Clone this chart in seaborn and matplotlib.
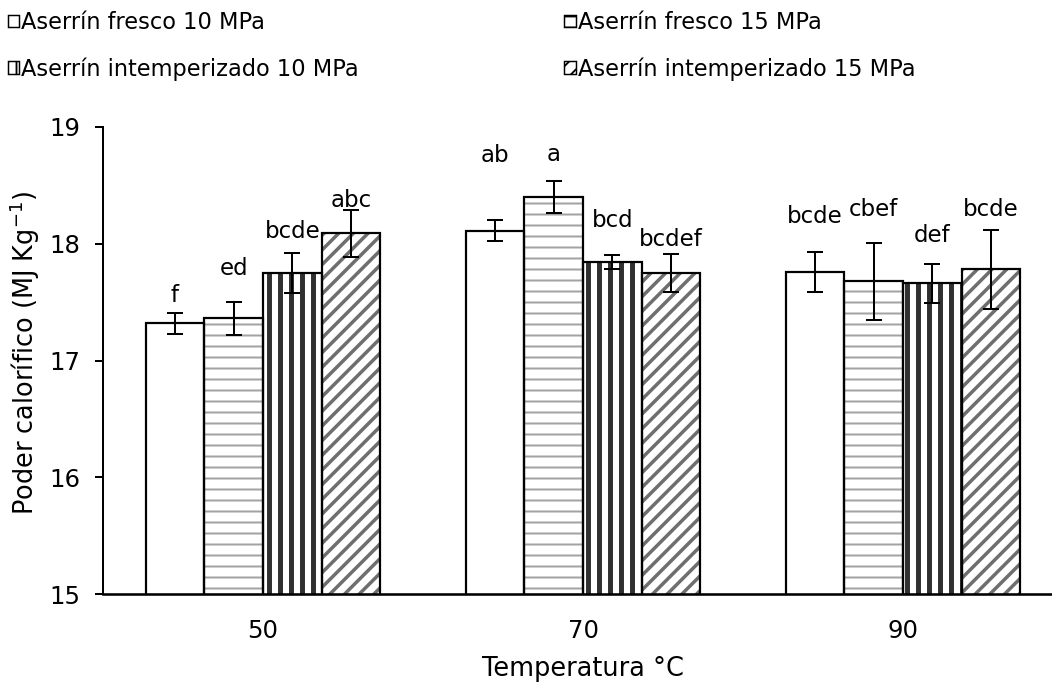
import pandas as pd
import seaborn as sns
import matplotlib.pyplot as plt
from matplotlib.patches import Patch

# ----- DATOS -----
temperaturas = ["50", "70", "90"]
tratamientos = ["Aserrín fresco 10 MPa", "Aserrín fresco 15 MPa",
                "Aserrín intemperizado 10 MPa", "Aserrín intemperizado 15 MPa"]

# poder calorífico medio por tratamiento (50, 70, 90 °C)
fresco_10 = [17.32, 18.11, 17.76]
fresco_15 = [17.36, 18.40, 17.68]
intemp_10 = [17.75, 17.84, 17.66]
intemp_15 = [18.09, 17.75, 17.78]

# desviaciones (barras de error)
err_fresco_10 = [0.09, 0.09, 0.17]
err_fresco_15 = [0.145, 0.14, 0.33]
err_intemp_10 = [0.175, 0.06, 0.17]
err_intemp_15 = [0.20, 0.16, 0.34]

# letras de Tukey
letras_fresco_10 = ["f", "ab", "bcde"]
letras_fresco_15 = ["ed", "a", "cbef"]
letras_intemp_10 = ["bcde", "bcd", "def"]
letras_intemp_15 = ["abc", "bcdef", "bcde"]


def main():
    medias = [fresco_10, fresco_15, intemp_10, intemp_15]
    errores = [err_fresco_10, err_fresco_15, err_intemp_10, err_intemp_15]
    letras = [letras_fresco_10, letras_fresco_15, letras_intemp_10, letras_intemp_15]

    filas = []
    for trat, vals in zip(tratamientos, medias):
        for temp, v in zip(temperaturas, vals):
            filas.append({"temp": temp, "valor": v, "trat": trat})
    df = pd.DataFrame(filas)

    sns.set_style("ticks")
    plt.rcParams["font.family"] = ["DejaVu Sans"]
    plt.rcParams["mathtext.default"] = "regular"
    for clave in ["text.color", "axes.labelcolor", "xtick.color", "ytick.color",
                  "axes.edgecolor"]:
        plt.rcParams[clave] = "black"

    # dpi 132 para que la densidad de los tramados se parezca a la original
    DPI = 132
    fig = plt.figure(figsize=(1052 / DPI, 684 / DPI), dpi=DPI)
    ax = fig.add_axes([103 / 1052, 90 / 684, 960 / 1052, 467 / 684])

    # relleno con tramado
    sns.barplot(data=df, x="temp", y="valor", hue="trat",
                order=temperaturas, hue_order=tratamientos,
                palette={t: "white" for t in tratamientos},
                width=0.734, linewidth=0, errorbar=None, legend=False, ax=ax)

    tramas = [None, "--", "||", "///"]
    color_trama = ["black", "#a3a3a3", "#303030", "#6e6e6e"]
    grosor_trama = [1.0, 1.1, 2.7, 1.9]
    for i, cont in enumerate(ax.containers):
        for barra in cont:
            if tramas[i]:
                barra.set_hatch(tramas[i])
                barra.set_edgecolor(color_trama[i])
                if hasattr(barra, "set_hatch_linewidth"):
                    barra.set_hatch_linewidth(grosor_trama[i])

    # contorno negro encima
    sns.barplot(data=df, x="temp", y="valor", hue="trat",
                order=temperaturas, hue_order=tratamientos,
                palette={t: "black" for t in tratamientos}, fill=False,
                width=0.734, linewidth=1.2, errorbar=None, legend=False, ax=ax)

    # barras de error y letras
    desplaz = [[3, 29, 13], [12, 8, 11.5], [5, 13, 9], [-1, 2, 4.5]]
    for i in range(4):
        cont = ax.containers[4 + i]
        xs = [b.get_x() + b.get_width() / 2 for b in cont]
        ax.errorbar(xs, medias[i], yerr=errores[i], fmt="none", ecolor="black",
                    elinewidth=1.1, capsize=4.1, capthick=1.1, zorder=5)
        for j, x in enumerate(xs):
            ax.annotate(letras[i][j], (x, medias[i][j] + errores[i][j]),
                        xytext=(0, desplaz[i][j]), textcoords="offset points",
                        ha="center", va="bottom", fontsize=12.5, zorder=6)

    ax.set_xlim(-0.5, 2.5)
    ax.set_ylim(15, 19)
    ax.set_yticks([15, 16, 17, 18, 19])
    sns.despine(ax=ax)
    ax.spines["left"].set_linewidth(1.1)
    ax.spines["bottom"].set_linewidth(1.4)
    ax.tick_params(axis="y", length=4.4, width=1.1, labelsize=13.3, pad=8.2)
    ax.tick_params(axis="x", length=0, labelsize=13.3, pad=13.5)
    ax.set_xlabel("Temperatura °C", fontsize=14, labelpad=7)
    ax.set_ylabel("Poder calorífico (MJ Kg$^{-1}$)", fontsize=14, labelpad=3.5)
    ax.yaxis.label.set_y(0.517)

    # leyenda arriba en dos columnas
    handles = [Patch(facecolor="white", edgecolor="black", hatch=tramas[i],
                     linewidth=0.8) for i in range(4)]
    orden = [0, 2, 1, 3]
    fig.legend([handles[k] for k in orden], [tratamientos[k] for k in orden],
               ncol=2, loc="upper left", bbox_to_anchor=(-0.001, 0.997),
               frameon=False, fontsize=12.3, handlelength=0.5, handleheight=0.5,
               handletextpad=0.1, columnspacing=9.1, labelspacing=1.02,
               borderaxespad=0)

    fig.savefig("out.png", dpi=DPI)
    plt.close(fig)


if __name__ == "__main__":
    main()
